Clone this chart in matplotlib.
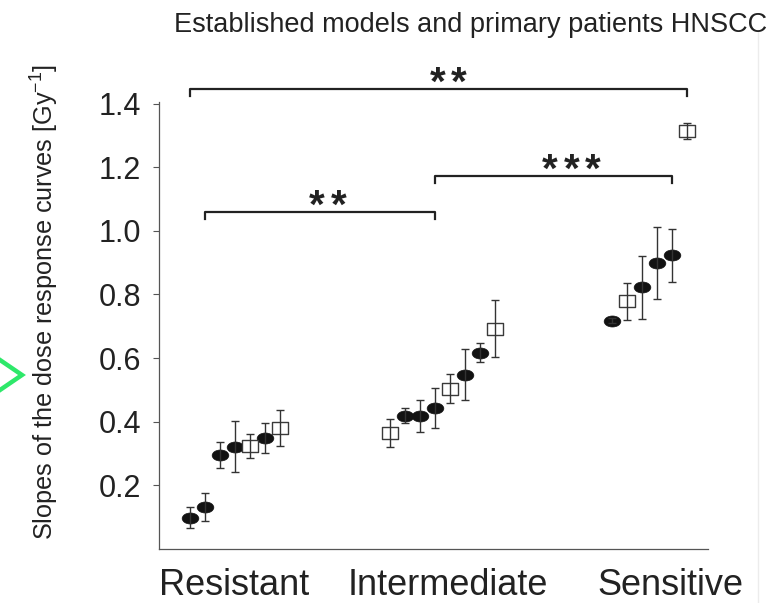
#!/usr/bin/env python3
"""Slopes of dose response curves: established models vs primary patients (HNSCC)."""

import matplotlib
matplotlib.use("Agg")
import matplotlib.pyplot as plt
from matplotlib.lines import Line2D
from matplotlib.path import Path
from matplotlib.transforms import Affine2D
import numpy as np

plt.rcParams["font.family"] = ["Liberation Sans", "DejaVu Sans"]
plt.rcParams["mathtext.default"] = "regular"

# ---- data ----
groups = ["Resistant", "Intermediate", "Sensitive"]

resistant_vals = [0.098, 0.132, 0.296, 0.321, 0.324, 0.349, 0.381]
resistant_err = [0.033, 0.043, 0.041, 0.080, 0.039, 0.047, 0.056]
resistant_kind = ["model", "model", "model", "model", "patient", "model", "patient"]

intermediate_vals = [0.365, 0.419, 0.419, 0.444, 0.504, 0.548, 0.617, 0.693]
intermediate_err = [0.044, 0.024, 0.050, 0.063, 0.045, 0.080, 0.030, 0.090]
intermediate_kind = ["patient", "model", "model", "model", "patient", "model",
                     "model", "patient"]

sensitive_vals = [0.718, 0.778, 0.822, 0.898, 0.923, 1.313]
sensitive_err = [0.008, 0.057, 0.100, 0.113, 0.083, 0.025]
sensitive_kind = ["model", "patient", "model", "model", "model", "patient"]

# significance brackets: (first point, last point, bar height, stars)
brackets = [(0, 20, 1.446, "**"), (10, 19, 1.172, "***"), (1, 10, 1.058, "**")]
star_shift_px = [10, 18, 8]   # stars sit a bit right of bracket centre

# ---- layout ----
W, H = 773, 603
fig = plt.figure(figsize=(W / 100, H / 100), dpi=100)
ax = fig.add_axes([159 / W, 1 - 549 / H, (708 - 159) / W, (549 - 102) / H])

step = 0.0723
vals = [resistant_vals, intermediate_vals, sensitive_vals]
errs = [resistant_err, intermediate_err, sensitive_err]
kinds = [resistant_kind, intermediate_kind, sensitive_kind]

ellipse = Path.unit_circle().transformed(Affine2D().scale(1.0, 0.66))
rect = Path([(-1, -0.78), (1, -0.78), (1, 0.78), (-1, 0.78), (-1, -0.78)],
            [Path.MOVETO, Path.LINETO, Path.LINETO, Path.LINETO, Path.CLOSEPOLY])

all_x, all_y = [], []
for g, (v, e, k) in enumerate(zip(vals, errs, kinds)):
    n = len(v)
    xs = (g + 1) + (np.arange(n) - (n - 1) / 2) * step
    v = np.asarray(v)
    e = np.asarray(e)
    k = np.asarray(k)
    m = k == "model"
    ax.plot(xs[m], v[m], ls="none", marker=ellipse, ms=12,
            mfc="#121212", mec="#121212", mew=0.5, zorder=2)
    ax.plot(xs[~m], v[~m], ls="none", marker=rect, ms=11,
            mfc="white", mec="#3a3a3a", mew=1.0, zorder=2)
    ax.errorbar(xs, v, yerr=e, fmt="none", ecolor="#333333", elinewidth=1.0,
                capsize=2.8, capthick=1.0, zorder=3)
    all_x.extend(xs)
    all_y.extend(v)

px_to_data = 1.405 / (549 - 102)
drop = 7 * px_to_data
for (i0, i1, h, stars), shift in zip(brackets, star_shift_px):
    x0, x1 = all_x[i0], all_x[i1]
    ax.plot([x0, x0, x1, x1], [h - drop, h, h, h - drop], color="#222222",
            lw=1.6, clip_on=False, solid_joinstyle="round")
    xc = (x0 + x1) / 2
    n = len(stars)
    for j in range(n):
        dx = (shift + (j - (n - 1) / 2) * 21.5) * 0.72
        ax.annotate("*", (xc, h), xytext=(dx, -4), textcoords="offset points",
                    ha="center", va="baseline", fontsize=29, fontweight="bold",
                    color="#222222", annotation_clip=False)

ax.set_xlim(0.636, 3.282)
ax.set_ylim(0, 1.405)
ax.set_yticks([0.2, 0.4, 0.6, 0.8, 1.0, 1.2, 1.4])
ax.set_yticklabels([f"{t:.1f}" for t in [0.2, 0.4, 0.6, 0.8, 1.0, 1.2, 1.4]])
ax.set_xticks([1.0, 2.03, 3.10])
ax.set_xticklabels(groups)
ax.tick_params(axis="x", length=0, pad=14, labelsize=26, labelcolor="#222222")
ax.tick_params(axis="y", length=4, width=0.8, color="#555555", pad=9,
               labelsize=22, labelcolor="#222222")
for s in ("top", "right"):
    ax.spines[s].set_visible(False)
for s in ("left", "bottom"):
    ax.spines[s].set_color("#555555")
    ax.spines[s].set_linewidth(0.9)

fig.text(45 / W, 1 - 302 / H,
         "Slopes of the dose response curves [Gy$^{-1}$]",
         rotation=90, ha="center", va="center", fontsize=18.2, color="#222222")
fig.text(471 / W, 1 - 25 / H, "Established models and primary patients HNSCC",
         ha="center", va="center", fontsize=19.5, color="#222222")

# faint border at the right and the green marker at the left edge
fig.add_artist(Line2D([758 / W, 758 / W], [0, 1 - 30 / H], color="#ececec", lw=1))
fig.add_artist(Line2D([0, 22 / W, 0], [1 - 360 / H, 1 - 375 / H, 1 - 390 / H],
                      color="#2ee86a", lw=3.2, solid_joinstyle="miter"))

fig.savefig("out.png", dpi=100)
